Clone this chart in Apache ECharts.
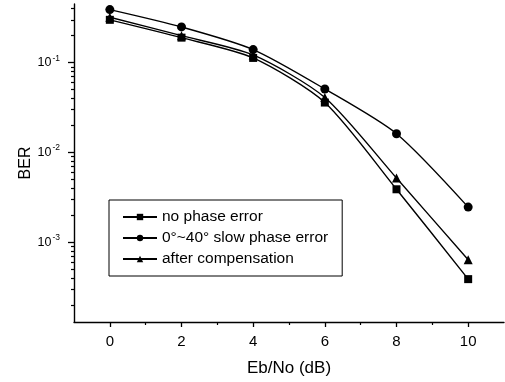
<!DOCTYPE html>
<html>
<head>
<meta charset="utf-8">
<script src="https://cdn.jsdelivr.net/npm/echarts@6/dist/echarts.min.js"></script>
<style>html,body{margin:0;padding:0;background:#fff}#c{width:505px;height:382px}</style>
</head>
<body>
<div id="c"></div>
<script>
const ebno = [0, 2, 4, 6, 8, 10];
const noPhaseError = [0.30, 0.19, 0.113, 0.036, 0.0039, 0.00039];
const slowPhaseError = [0.39, 0.25, 0.14, 0.051, 0.0162, 0.00247];
const afterCompensation = [0.32, 0.20, 0.122, 0.041, 0.0052, 0.00064];
const seriesNames = ['no phase error', '0°~40° slow phase error', 'after compensation'];
const xMajorTicks = [0, 2, 4, 6, 8, 10];
const xMinorTicks = [1, 3, 5, 7, 9];
const yMajorTicks = [0.001, 0.01, 0.1];
const yMinorTicks = [2e-4,3e-4,4e-4,5e-4,6e-4,7e-4,8e-4,9e-4,
  2e-3,3e-3,4e-3,5e-3,6e-3,7e-3,8e-3,9e-3,
  0.02,0.03,0.04,0.05,0.06,0.07,0.08,0.09,0.2,0.3,0.4];

const font = 'Liberation Sans, Arial, sans-serif';
const chart = echarts.init(document.getElementById('c'), null, {renderer: 'canvas'});
const pair = (ys) => ebno.map((x, i) => [x, ys[i]]);
const mk = (name, ys, symbol, size) => ({
  name, type: 'line', data: pair(ys), smooth: 0.25,
  symbol, symbolSize: size, showSymbol: true,
  lineStyle: {color: '#000', width: 1.4},
  itemStyle: {color: '#000'},
  xAxisIndex: 0, yAxisIndex: 0
});
const yMin = 1.3e-4, yMax = 0.45;
chart.setOption({
  animation: false,
  backgroundColor: '#fff',
  textStyle: {fontFamily: font, color: '#000'},
  grid: {left: 74, right: 1, top: 4, bottom: 59, containLabel: false},
  legend: {
    orient: 'vertical', left: 109, top: 200,
    itemWidth: 34, itemHeight: 8, itemGap: 5,
    padding: [9, 14, 9, 13],
    borderColor: '#000', borderWidth: 1,
    textStyle: {fontFamily: font, fontSize: 15.5, color: '#000'},
    data: seriesNames
  },
  xAxis: [{
    type: 'value', min: -1, max: 11,
    name: 'Eb/No (dB)', nameLocation: 'middle', nameGap: 38,
    nameTextStyle: {fontFamily: font, fontSize: 17, color: '#000'},
    axisLine: {show: true, onZero: false, lineStyle: {color: '#000', width: 1.4}},
    axisTick: {show: true, customValues: xMajorTicks, length: 5, lineStyle: {color: '#000', width: 1.3}},
    axisLabel: {customValues: xMajorTicks, fontFamily: font, fontSize: 15, color: '#000', margin: 12},
    splitLine: {show: false}
  }, {
    type: 'value', min: -1, max: 11, position: 'bottom',
    axisLine: {show: false, onZero: false},
    axisTick: {show: true, customValues: xMinorTicks, length: 3, lineStyle: {color: '#000', width: 1.2}},
    axisLabel: {show: false},
    splitLine: {show: false}
  }],
  yAxis: [{
    type: 'log', min: yMin, max: yMax,
    name: 'BER', nameLocation: 'middle', nameGap: 40, nameMoveOverlap: false,
    nameTextStyle: {fontFamily: font, fontSize: 16, color: '#000'},
    axisLine: {show: true, onZero: false, lineStyle: {color: '#000', width: 1.4}},
    axisTick: {show: true, customValues: yMajorTicks, length: 6, lineStyle: {color: '#000', width: 1.3}},
    axisLabel: {
      customValues: yMajorTicks, margin: 14,
      formatter: (v) => '{b|10}{s|' + Math.round(Math.log10(v)) + '}',
      rich: {
        b: {fontFamily: font, fontSize: 12.5, color: '#000'},
        s: {fontFamily: font, fontSize: 8.5, color: '#000', verticalAlign: 'top', padding: [0, 0, 9, 1]}
      }
    },
    splitLine: {show: false}
  }, {
    type: 'log', min: yMin, max: yMax, position: 'left',
    axisLine: {show: false, onZero: false},
    axisTick: {show: true, customValues: yMinorTicks, length: 3, lineStyle: {color: '#000', width: 1.2}},
    axisLabel: {show: false},
    splitLine: {show: false}
  }],
  series: [
    mk(seriesNames[0], noPhaseError, 'rect', 8),
    mk(seriesNames[1], slowPhaseError, 'circle', 9),
    mk(seriesNames[2], afterCompensation, 'triangle', 9)
  ]
});
</script>
</body>
</html>
